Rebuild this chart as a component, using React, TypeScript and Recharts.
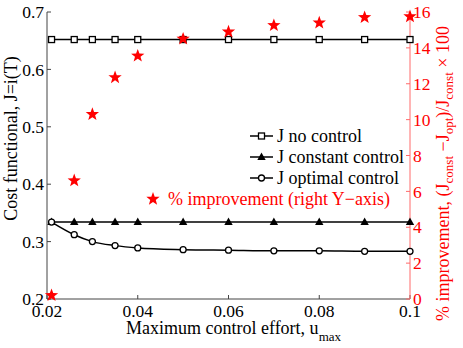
import React from "react";
import { ComposedChart, Line, Scatter, XAxis, YAxis } from "recharts";

// values
const uMax = [0.021, 0.026, 0.03, 0.035, 0.04, 0.05, 0.06, 0.07, 0.08, 0.09, 0.1];
const jNoControl = [0.652, 0.652, 0.652, 0.652, 0.652, 0.652, 0.652, 0.652, 0.652, 0.652, 0.652];
const jConstant = [0.334, 0.334, 0.334, 0.334, 0.334, 0.334, 0.334, 0.334, 0.334, 0.334, 0.334];
const jOptimal = [0.334, 0.312, 0.3, 0.293, 0.289, 0.286, 0.285, 0.284, 0.284, 0.283, 0.283];
const improvement = [0.2, 6.6, 10.3, 12.35, 13.55, 14.5, 14.9, 15.25, 15.4, 15.7, 15.75];

const xTicks = [0.02, 0.04, 0.06, 0.08, 0.1];
const leftTicks = [0.2, 0.3, 0.4, 0.5, 0.6, 0.7];
const rightTicks = [0, 2, 4, 6, 8, 10, 12, 14, 16];

const legendItems = ["J no control", "J constant control", "J optimal control"];

const data = uMax.map((u, i) => ({
  u,
  noCtrl: jNoControl[i],
  constCtrl: jConstant[i],
  optCtrl: jOptimal[i],
  impr: improvement[i],
}));

const FONT = "Liberation Serif";
const RED = "#ff0000";

const starPath = (cx: number, cy: number, R: number, r: number) => {
  let d = "";
  for (let k = 0; k < 10; k++) {
    const rad = k % 2 === 0 ? R : r;
    const a = -Math.PI / 2 + (k * Math.PI) / 5;
    d += (k === 0 ? "M" : "L") + (cx + rad * Math.cos(a)).toFixed(2) + "," + (cy + rad * Math.sin(a)).toFixed(2);
  }
  return d + "Z";
};

const SquareDot = (p: any) =>
  p.cx == null ? null : (
    <rect key={p.index} x={p.cx - 3} y={p.cy - 3} width={6} height={6} fill="#fff" stroke="#000" strokeWidth={1.3} />
  );
const TriDot = (p: any) =>
  p.cx == null ? null : (
    <path key={p.index} d={`M${p.cx},${p.cy - 4.5}L${p.cx + 4.2},${p.cy + 3}L${p.cx - 4.2},${p.cy + 3}Z`} fill="#000" />
  );
const CircDot = (p: any) =>
  p.cx == null ? null : <circle key={p.index} cx={p.cx} cy={p.cy} r={3} fill="#fff" stroke="#000" strokeWidth={1.3} />;
const StarShape = (p: any) => <path d={starPath(p.cx, p.cy, 7, 2.9)} fill={RED} />;

const LeftLabel = (p: any) => {
  const { x, y, height } = p.viewBox;
  const cx = x + 11;
  const cy = y + height / 2 - 17;
  return (
    <text x={cx} y={cy} transform={`rotate(-90 ${cx} ${cy})`} textAnchor="middle" dominantBaseline="central"
      fontFamily={FONT} fontSize={18} fill="#000">
      Cost functional, J=i(T)
    </text>
  );
};

const RightLabel = (p: any) => {
  const { x, y, height } = p.viewBox;
  const cx = x + 33;
  const cy = y + height / 2 + 18;
  const sub = { fontSize: 13, dy: 5 };
  return (
    <text x={cx} y={cy} transform={`rotate(-90 ${cx} ${cy})`} textAnchor="middle" dominantBaseline="central"
      fontFamily={FONT} fontSize={18} fill={RED}>
      % improvement, (J
      <tspan {...sub}>const</tspan>
      <tspan dy={-5}> −J</tspan>
      <tspan {...sub}>opt</tspan>
      <tspan dy={-5}>)/J</tspan>
      <tspan {...sub}>const</tspan>
      <tspan dy={-5}> × 100</tspan>
    </text>
  );
};

const BottomLabel = (p: any) => {
  const { x, y, width } = p.viewBox;
  return (
    <text x={x + width / 2 + 5} y={y + 35} textAnchor="middle" fontFamily={FONT} fontSize={18} fill="#000">
      Maximum control effort, u
      <tspan fontSize={13} dy={7}>max</tspan>
    </text>
  );
};

export default function App() {
  const tickStyle = { fontSize: 17.5, fontFamily: FONT, fill: "#000" };
  return (
    <div style={{ position: "absolute", left: 0, top: 0, width: 463, height: 348, background: "#fff" }}>
      <ComposedChart width={463} height={348} data={data} margin={{ top: 12, right: 0, bottom: 0, left: 0 }}>
        <XAxis xAxisId="top" orientation="top" dataKey="u" type="number" domain={[0.02, 0.1]} height={0}
          tick={false} tickLine={false} axisLine={{ stroke: "#ff6a6a" }} />
        <XAxis dataKey="u" type="number" domain={[0.02, 0.1]} ticks={xTicks} height={49} interval={0}
          tickFormatter={(v) => String(v)} tickSize={-4} tickMargin={10} tick={tickStyle}
          axisLine={{ stroke: "#444" }} tickLine={{ stroke: "#444" }} label={<BottomLabel />} />
        <YAxis yAxisId="left" domain={[0.2, 0.7]} ticks={leftTicks} width={47} interval={0}
          tickFormatter={(v) => String(v)} tickSize={-4} tickMargin={7} tick={tickStyle}
          axisLine={{ stroke: "#444" }} tickLine={{ stroke: "#444" }} label={<LeftLabel />} />
        <YAxis yAxisId="right" orientation="right" domain={[0, 16]} ticks={rightTicks} width={53} interval={0}
          tickSize={-4} tickMargin={7} tick={{ ...tickStyle, fill: RED }}
          axisLine={{ stroke: "#ff6a6a" }} tickLine={{ stroke: "#ff6a6a" }} label={<RightLabel />} />
        <Line yAxisId="left" dataKey="noCtrl" stroke="#000" strokeWidth={1.5} dot={SquareDot} isAnimationActive={false} />
        <Line yAxisId="left" dataKey="constCtrl" stroke="#000" strokeWidth={1.5} dot={TriDot} isAnimationActive={false} />
        <Line yAxisId="left" dataKey="optCtrl" type="monotone" stroke="#000" strokeWidth={1.5} dot={CircDot} isAnimationActive={false} />
        <Scatter yAxisId="right" dataKey="impr" shape={StarShape} isAnimationActive={false} />
      </ComposedChart>

      {/* legends, drawn over the axes like the original */}
      <svg width={463} height={348} style={{ position: "absolute", left: 0, top: 0, pointerEvents: "none" }}>
        {legendItems.map((label, i) => {
          const y = 136 + i * 21;
          return (
            <g key={label}>
              <line x1={250} x2={273} y1={y} y2={y} stroke="#000" strokeWidth={1.5} />
              {i === 0 && <rect x={258.5} y={y - 3} width={6} height={6} fill="#fff" stroke="#000" strokeWidth={1.3} />}
              {i === 1 && <path d={`M261.5,${y - 4.5}L265.7,${y + 3}L257.3,${y + 3}Z`} fill="#000" />}
              {i === 2 && <circle cx={261.5} cy={y} r={3} fill="#fff" stroke="#000" strokeWidth={1.3} />}
              <text x={277} y={y} dominantBaseline="central" fontFamily={FONT} fontSize={18} fill="#000">{label}</text>
            </g>
          );
        })}
        <path d={starPath(153, 199, 7, 2.9)} fill={RED} />
        <text x={168} y={199} dominantBaseline="central" fontFamily={FONT} fontSize={18} fill={RED}>
          % improvement (right Y−axis)
        </text>
      </svg>
    </div>
  );
}
